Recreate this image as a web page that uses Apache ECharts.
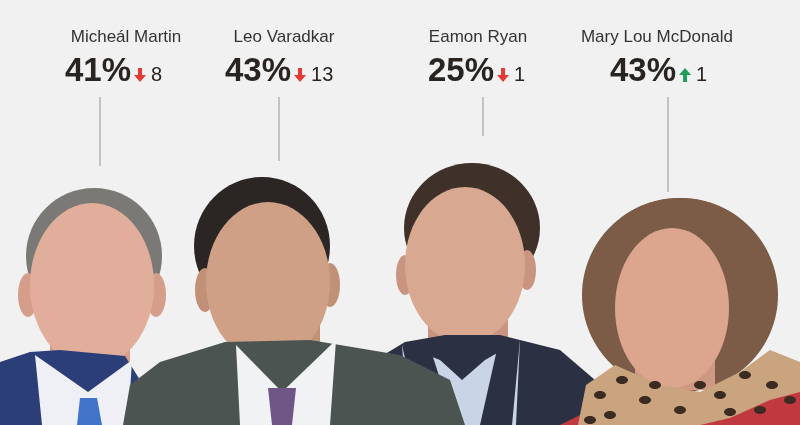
<!DOCTYPE html>
<html>
<head>
<meta charset="utf-8">
<script src="https://cdn.jsdelivr.net/npm/echarts@6/dist/echarts.min.js"></script>
<style>
  html, body { margin: 0; padding: 0; background: #f1f1f1; }
  #chart { width: 800px; height: 425px; }
</style>
</head>
<body>
<div id="chart"></div>
<script>
// Datos
const leaders = ['Micheál Martin', 'Leo Varadkar', 'Eamon Ryan', 'Mary Lou McDonald'];
const ratings = [41, 43, 25, 43];
const changes = [-8, -13, -1, 1];

// Posiciones (px en la escala 0-800 / 0-425)
const nameCenterX = [126, 284, 478, 657];
const valueLeftX = [65, 225, 428, 610];
const lineX = [100, 279, 483, 668];
const lineEndY = [166, 161, 136, 192];

const FONT = '"Liberation Sans", Arial, Helvetica, sans-serif';
const measureCtx = document.createElement('canvas').getContext('2d');
function textWidth(txt, font) {
    measureCtx.font = font;
    return measureCtx.measureText(txt).width;
}

const chart = echarts.init(document.getElementById('chart'));

// Siluetas decorativas en lugar de las fotos
function person(p) {
    const els = [];
    (p.back || []).forEach(e => els.push(e));
    els.push({ type: 'ellipse', shape: p.hair, style: { fill: p.hairColor } });
    els.push({ type: 'rect', shape: p.neck, style: { fill: p.skinDark } });
    p.ears.forEach(e => els.push({ type: 'ellipse', shape: e, style: { fill: p.skinDark } }));
    els.push({ type: 'ellipse', shape: p.face, style: { fill: p.skin } });
    (p.front || []).forEach(e => els.push(e));
    return els;
}
function poly(points, fill) {
    return { type: 'polygon', shape: { points: points }, style: { fill: fill } };
}

const ryan = person({
    hair: { cx: 472, cy: 228, rx: 68, ry: 65 }, hairColor: '#3f3129',
    neck: { x: 428, y: 305, width: 80, height: 60 },
    ears: [{ cx: 405, cy: 275, rx: 9, ry: 20 }, { cx: 527, cy: 270, rx: 9, ry: 20 }],
    face: { cx: 465, cy: 265, rx: 60, ry: 78 }, skin: '#d9a891', skinDark: '#c99580',
    front: [
        poly([[367, 425], [372, 362], [405, 342], [445, 335], [500, 335], [560, 350], [595, 380], [595, 425]], '#2b3143'),
        poly([[402, 345], [440, 360], [462, 380], [485, 360], [520, 340], [516, 425], [408, 425]], '#c9d4e6'),
        poly([[402, 345], [430, 348], [455, 425], [420, 425]], '#2b3143'),
        poly([[520, 340], [498, 345], [480, 425], [512, 425]], '#2b3143')
    ]
});

const spots = [[600, 395], [622, 380], [645, 400], [610, 415], [680, 410], [720, 395], [745, 375], [772, 385],
    [790, 400], [700, 385], [655, 385], [760, 410], [730, 412], [590, 420]];
const mcdonald = person({
    back: [
        { type: 'ellipse', shape: { cx: 680, cy: 295, rx: 98, ry: 97 }, style: { fill: '#7c5c46' } }
    ],
    hair: { cx: 680, cy: 290, rx: 95, ry: 92 }, hairColor: '#7c5c46',
    neck: { x: 635, y: 330, width: 80, height: 60 },
    ears: [],
    face: { cx: 672, cy: 308, rx: 57, ry: 80 }, skin: '#dca68e', skinDark: '#cf9882',
    front: [
        poly([[560, 425], [600, 405], [700, 400], [800, 375], [800, 425]], '#c1393f'),
        poly([[578, 425], [586, 385], [615, 365], [660, 385], [700, 392], [740, 372], [770, 350], [800, 362],
            [800, 392], [770, 400], [730, 418], [700, 425]], '#c9a47f')
    ].concat(spots.map(s => ({ type: 'ellipse', shape: { cx: s[0], cy: s[1], rx: 6, ry: 4 }, style: { fill: '#3b2b21' } })))
});

const martin = person({
    hair: { cx: 94, cy: 256, rx: 68, ry: 68 }, hairColor: '#7b7976',
    neck: { x: 50, y: 320, width: 80, height: 60 },
    ears: [{ cx: 28, cy: 295, rx: 10, ry: 22 }, { cx: 156, cy: 295, rx: 10, ry: 22 }],
    face: { cx: 92, cy: 285, rx: 62, ry: 82 }, skin: '#e2ae9c', skinDark: '#d49e8b',
    front: [
        poly([[0, 362], [30, 352], [60, 350], [125, 356], [140, 380], [140, 425], [0, 425]], '#2c3e78'),
        poly([[35, 355], [88, 392], [132, 360], [128, 425], [42, 425]], '#eef0f5'),
        poly([[80, 398], [97, 398], [102, 425], [77, 425]], '#3f74c9')
    ]
});

const varadkar = person({
    hair: { cx: 262, cy: 246, rx: 68, ry: 69 }, hairColor: '#2b2624',
    neck: { x: 228, y: 320, width: 92, height: 60 },
    ears: [{ cx: 205, cy: 290, rx: 10, ry: 22 }, { cx: 330, cy: 285, rx: 10, ry: 22 }],
    face: { cx: 268, cy: 282, rx: 62, ry: 80 }, skin: '#cfa086', skinDark: '#c09077',
    front: [
        poly([[123, 425], [130, 385], [160, 362], [225, 342], [310, 340], [400, 355], [450, 380], [465, 425]], '#4c5451'),
        poly([[236, 345], [282, 392], [336, 340], [330, 425], [240, 425]], '#f1f2f4'),
        poly([[268, 388], [296, 388], [292, 425], [272, 425]], '#6f5687')
    ]
});

const portraits = [].concat(ryan, mcdonald, martin, varadkar);

function renderLabel(params, api) {
    const i = params.dataIndex;
    const rating = api.value(1);
    const change = api.value(2);
    const up = change > 0;

    const top = api.coord([lineX[i], 97]);
    const bottom = api.coord([lineX[i], lineEndY[i]]);
    const nameAt = api.coord([nameCenterX[i], 37]);
    const valAt = api.coord([valueLeftX[i], 72]);

    const pctTxt = rating + '%';
    const pctFont = 'bold 33px ' + FONT;
    const pctW = textWidth(pctTxt, pctFont);
    const ax = valAt[0] + pctW + 3;
    const ay = valAt[1] - 4;
    const arrowColor = up ? '#1f9e56' : '#e53a35';
    const arrowPts = up
        ? [[ax + 6, ay], [ax + 12, ay + 7], [ax + 8, ay + 7], [ax + 8, ay + 14], [ax + 4, ay + 14], [ax + 4, ay + 7], [ax, ay + 7]]
        : [[ax + 4, ay], [ax + 8, ay], [ax + 8, ay + 7], [ax + 12, ay + 7], [ax + 6, ay + 14], [ax, ay + 7], [ax + 4, ay + 7]];

    return {
        type: 'group',
        children: [
            {
                type: 'line',
                shape: { x1: top[0], y1: top[1], x2: bottom[0], y2: bottom[1] },
                style: { stroke: '#b3b3b3', lineWidth: 1.5 }
            },
            {
                type: 'text',
                x: nameAt[0], y: nameAt[1],
                style: { text: leaders[i], font: '17px ' + FONT, fill: '#333333', align: 'center', verticalAlign: 'middle' }
            },
            {
                type: 'text',
                x: valAt[0], y: valAt[1],
                style: { text: pctTxt, font: pctFont, fill: '#2a2420', align: 'left', verticalAlign: 'middle' }
            },
            {
                type: 'polygon',
                shape: { points: arrowPts },
                style: { fill: arrowColor }
            },
            {
                type: 'text',
                x: ax + 17, y: valAt[1] + 3,
                style: { text: String(Math.abs(change)), font: '20px ' + FONT, fill: '#2a2420', align: 'left', verticalAlign: 'middle' }
            }
        ]
    };
}

const option = {
    backgroundColor: '#f1f1f1',
    animation: false,
    grid: { left: 0, right: 0, top: 0, bottom: 0 },
    xAxis: { type: 'value', min: 0, max: 800, show: false },
    yAxis: { type: 'value', min: 0, max: 425, inverse: true, show: false },
    graphic: portraits.map(el => Object.assign({ silent: true }, el)),
    series: [{
        type: 'custom',
        coordinateSystem: 'cartesian2d',
        renderItem: renderLabel,
        encode: { x: 0, y: 1 },
        data: leaders.map((n, i) => [i, ratings[i], changes[i]])
    }]
};

chart.setOption(option);
</script>
</body>
</html>
